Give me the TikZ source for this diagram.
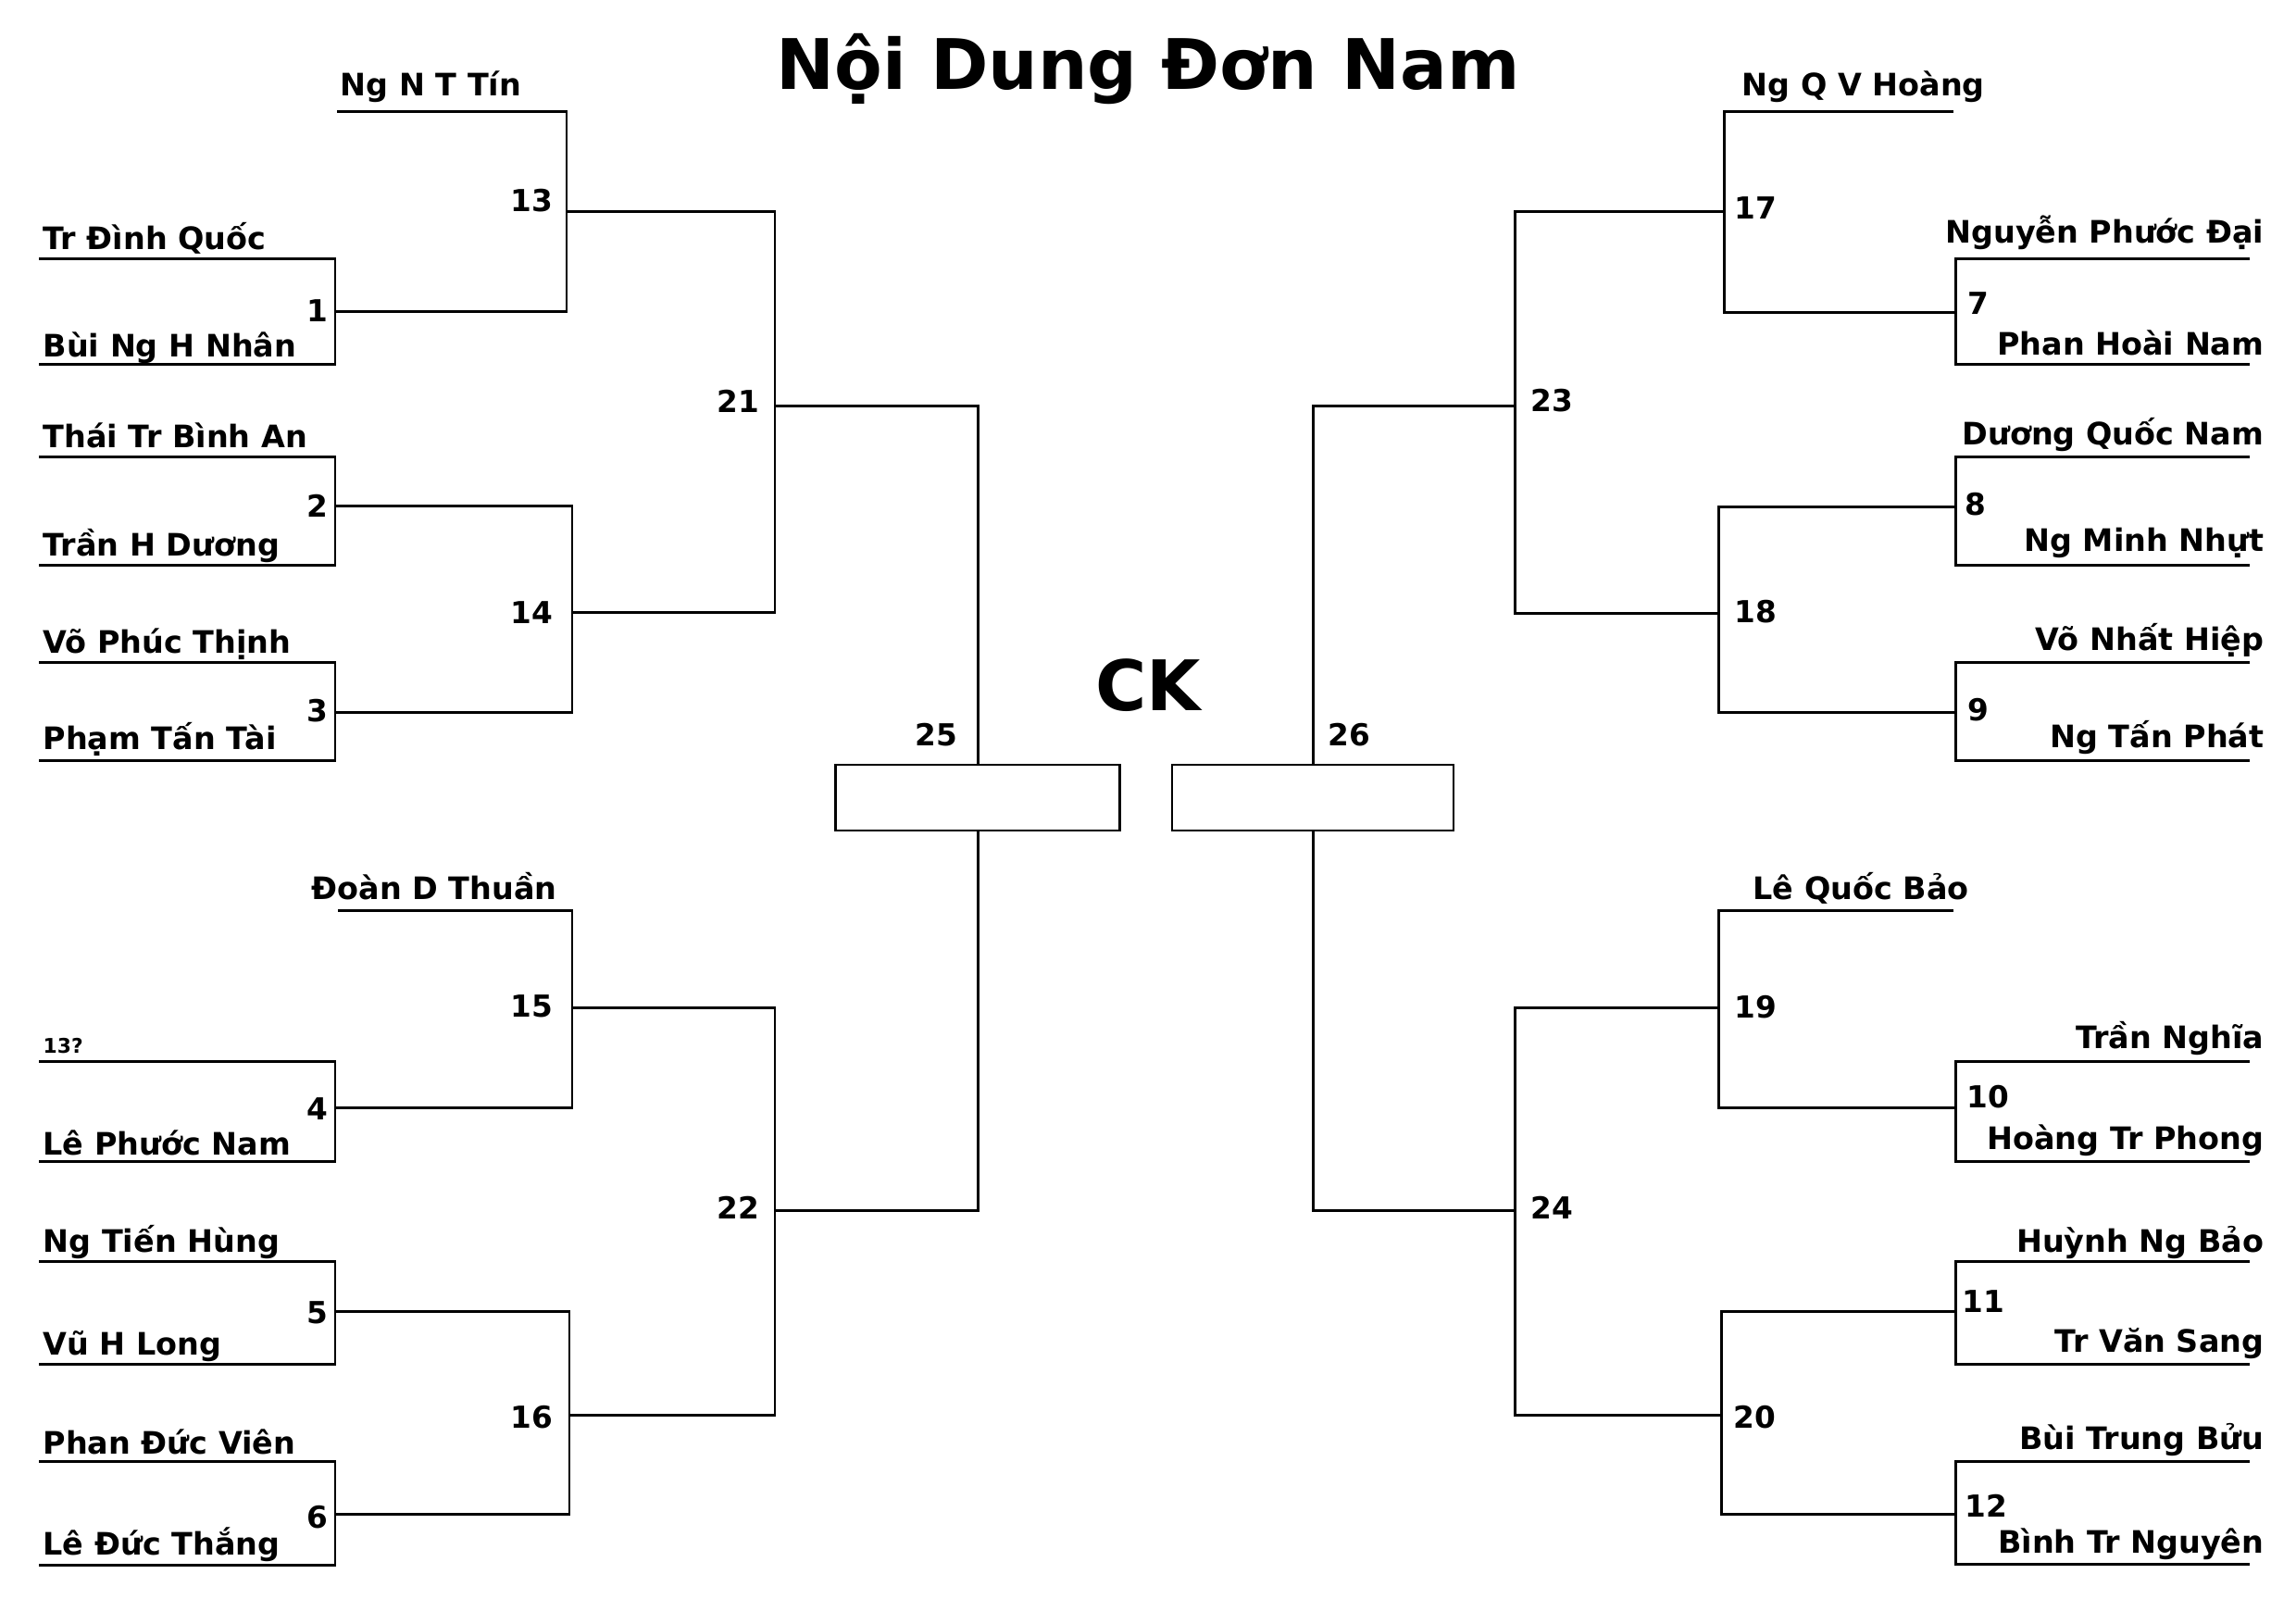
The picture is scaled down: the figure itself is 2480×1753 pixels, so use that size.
\documentclass[tikz,border=0pt]{standalone}
\usepackage{fontspec}
\setmainfont{DejaVu Sans}

\tikzset{
    brk/.style={line width=0.85pt, line join=miter},
    pname/.style={font=\bfseries\fontsize{9.5}{11}\selectfont, inner sep=0pt},
    mnum/.style={font=\bfseries\fontsize{9.3}{11}\selectfont, inner sep=0pt},
    bigtxt/.style={font=\bfseries\fontsize{21.4}{25}\selectfont, inner sep=0pt},
    finbox/.style={draw, line width=0.7pt, minimum height=0.71cm, inner sep=0pt}
}

\begin{document}
\begin{tikzpicture}[x=0.01cm,y=-0.01cm]
    \useasboundingbox[fill=white] (0,0) rectangle (2480,1753);

    \node[bigtxt, anchor=base] (title) at (1240,96) {Nội Dung Đơn Nam};
    \node[bigtxt, anchor=base] (ck) at (1240,767) {CK};

    % left half
    \coordinate (p1a) at (42,279);
    \coordinate (p1b) at (42,393);
    \coordinate (p2a) at (42,493);
    \coordinate (p2b) at (42,610);
    \coordinate (p3a) at (42,715);
    \coordinate (p3b) at (42,821);
    \coordinate (p4a) at (42,1146);
    \coordinate (p4b) at (42,1254);
    \coordinate (p5a) at (42,1362);
    \coordinate (p5b) at (42,1473);
    \coordinate (p6a) at (42,1578);
    \coordinate (p6b) at (42,1690);
    \coordinate (p13a) at (364,120);
    \coordinate (p15a) at (365,983);

    \coordinate (m1) at (362,336);
    \coordinate (m2) at (362,546);
    \coordinate (m3) at (362,769);
    \coordinate (m4) at (362,1196);
    \coordinate (m5) at (362,1416);
    \coordinate (m6) at (362,1635);
    \coordinate (m13) at (612,228);
    \coordinate (m14) at (618,661);
    \coordinate (m15) at (618,1088);
    \coordinate (m16) at (615,1528);
    \coordinate (m21) at (837,438);
    \coordinate (m22) at (837,1307);

    \node[finbox, minimum width=3.07cm] (f25) at (1056,861.5) {};

    \draw[brk] (p1a) -| (m1) |- (p1b);
    \draw[brk] (p2a) -| (m2) |- (p2b);
    \draw[brk] (p3a) -| (m3) |- (p3b);
    \draw[brk] (p4a) -| (m4) |- (p4b);
    \draw[brk] (p5a) -| (m5) |- (p5b);
    \draw[brk] (p6a) -| (m6) |- (p6b);

    \draw[brk] (p13a) -| (m13) |- (m1);
    \draw[brk] (m2) -| (m14) |- (m3);
    \draw[brk] (p15a) -| (m15) |- (m4);
    \draw[brk] (m5) -| (m16) |- (m6);

    \draw[brk] (m13) -| (m21) |- (m14);
    \draw[brk] (m15) -| (m22) |- (m16);

    \draw[brk] (m21) -| (f25.north);
    \draw[brk] (m22) -| (f25.south);

    \node[pname, anchor=base west] (n13a) at (367,103) {Ng N T Tín};
    \node[pname, anchor=base west] (n1a) at (46,269) {Tr Đình Quốc};
    \node[pname, anchor=base west] (n1b) at (46,385) {Bùi Ng H Nhân};
    \node[pname, anchor=base west] (n2a) at (46,483) {Thái Tr Bình An};
    \node[pname, anchor=base west] (n2b) at (46,600) {Trần H Dương};
    \node[pname, anchor=base west] (n3a) at (46,705) {Võ Phúc Thịnh};
    \node[pname, anchor=base west] (n3b) at (46,809) {Phạm Tấn Tài};
    \node[pname, anchor=base west] (n15a) at (336,971) {Đoàn D Thuần};
    \node[pname, anchor=base west, font=\bfseries\fontsize{6.2}{7}\selectfont] (n4a) at (46,1137) {13?};
    \node[pname, anchor=base west] (n4b) at (46,1247) {Lê Phước Nam};
    \node[pname, anchor=base west] (n5a) at (46,1352) {Ng Tiến Hùng};
    \node[pname, anchor=base west] (n5b) at (46,1463) {Vũ H Long};
    \node[pname, anchor=base west] (n6a) at (46,1570) {Phan Đức Viên};
    \node[pname, anchor=base west] (n6b) at (46,1679) {Lê Đức Thắng};

    \node[mnum, anchor=east] (k1) at (355,336) {1};
    \node[mnum, anchor=east] (k2) at (355,546) {2};
    \node[mnum, anchor=east] (k3) at (355,768) {3};
    \node[mnum, anchor=east] (k4) at (355,1198) {4};
    \node[mnum, anchor=east] (k5) at (355,1418) {5};
    \node[mnum, anchor=east] (k6) at (355,1639) {6};
    \node[mnum, anchor=east] (k13) at (598,217) {13};
    \node[mnum, anchor=east] (k14) at (598,662) {14};
    \node[mnum, anchor=east] (k15) at (598,1087) {15};
    \node[mnum, anchor=east] (k16) at (598,1531) {16};
    \node[mnum, anchor=east] (k21) at (821,433) {21};
    \node[mnum, anchor=east] (k22) at (821,1304) {22};
    \node[mnum, anchor=east] (k25) at (1035,794) {25};

    % right half
    \coordinate (q7a) at (2430,279);
    \coordinate (q7b) at (2430,393);
    \coordinate (q8a) at (2430,493);
    \coordinate (q8b) at (2430,610);
    \coordinate (q9a) at (2430,715);
    \coordinate (q9b) at (2430,821);
    \coordinate (q10a) at (2430,1146);
    \coordinate (q10b) at (2430,1254);
    \coordinate (q11a) at (2430,1362);
    \coordinate (q11b) at (2430,1473);
    \coordinate (q12a) at (2430,1578);
    \coordinate (q12b) at (2430,1689);
    \coordinate (q17a) at (2110,120);
    \coordinate (q19a) at (2110,983);

    \coordinate (m7) at (2112,337);
    \coordinate (m8) at (2112,547);
    \coordinate (m9) at (2112,769);
    \coordinate (m10) at (2112,1196);
    \coordinate (m11) at (2112,1416);
    \coordinate (m12) at (2112,1635);
    \coordinate (m17) at (1862,228);
    \coordinate (m18) at (1856,662);
    \coordinate (m19) at (1856,1088);
    \coordinate (m20) at (1859,1528);
    \coordinate (m23) at (1636,438);
    \coordinate (m24) at (1636,1307);

    \node[finbox, minimum width=3.04cm] (f26) at (1418,861.5) {};

    \draw[brk] (q7a) -| (m7) |- (q7b);
    \draw[brk] (q8a) -| (m8) |- (q8b);
    \draw[brk] (q9a) -| (m9) |- (q9b);
    \draw[brk] (q10a) -| (m10) |- (q10b);
    \draw[brk] (q11a) -| (m11) |- (q11b);
    \draw[brk] (q12a) -| (m12) |- (q12b);

    \draw[brk] (q17a) -| (m17) |- (m7);
    \draw[brk] (m8) -| (m18) |- (m9);
    \draw[brk] (q19a) -| (m19) |- (m10);
    \draw[brk] (m11) -| (m20) |- (m12);

    \draw[brk] (m17) -| (m23) |- (m18);
    \draw[brk] (m19) -| (m24) |- (m20);

    \draw[brk] (m23) -| (f26.north);
    \draw[brk] (m24) -| (f26.south);

    \node[pname, anchor=base west] (n17a) at (1881,103) {Ng Q V Hoàng};
    \node[pname, anchor=base east] (n7a) at (2446,262) {Nguyễn Phước Đại};
    \node[pname, anchor=base east] (n7b) at (2446,383) {Phan Hoài Nam};
    \node[pname, anchor=base east] (n8a) at (2446,480) {Dương Quốc Nam};
    \node[pname, anchor=base east] (n8b) at (2446,595) {Ng Minh Nhựt};
    \node[pname, anchor=base east] (n9a) at (2446,702) {Võ Nhất Hiệp};
    \node[pname, anchor=base east] (n9b) at (2446,807) {Ng Tấn Phát};
    \node[pname, anchor=base west] (n19a) at (1893,971) {Lê Quốc Bảo};
    \node[pname, anchor=base east] (n10a) at (2446,1132) {Trần Nghĩa};
    \node[pname, anchor=base east] (n10b) at (2446,1241) {Hoàng Tr Phong};
    \node[pname, anchor=base east] (n11a) at (2446,1352) {Huỳnh Ng Bảo};
    \node[pname, anchor=base east] (n11b) at (2446,1460) {Tr Văn Sang};
    \node[pname, anchor=base east] (n12a) at (2446,1565) {Bùi Trung Bửu};
    \node[pname, anchor=base east] (n12b) at (2446,1677) {Bình Tr Nguyên};

    \node[mnum, anchor=west] (k7) at (2125,328) {7};
    \node[mnum, anchor=west] (k8) at (2122,545) {8};
    \node[mnum, anchor=west] (k9) at (2125,767) {9};
    \node[mnum, anchor=west] (k10) at (2124,1185) {10};
    \node[mnum, anchor=west] (k11) at (2119,1406) {11};
    \node[mnum, anchor=west] (k12) at (2122,1626) {12};
    \node[mnum, anchor=west] (k17) at (1873,225) {17};
    \node[mnum, anchor=west] (k18) at (1873,661) {18};
    \node[mnum, anchor=west] (k19) at (1873,1088) {19};
    \node[mnum, anchor=west] (k20) at (1872,1531) {20};
    \node[mnum, anchor=west] (k23) at (1653,433) {23};
    \node[mnum, anchor=west] (k24) at (1653,1304) {24};
    \node[mnum, anchor=west] (k26) at (1434,794) {26};
\end{tikzpicture}
\end{document}
